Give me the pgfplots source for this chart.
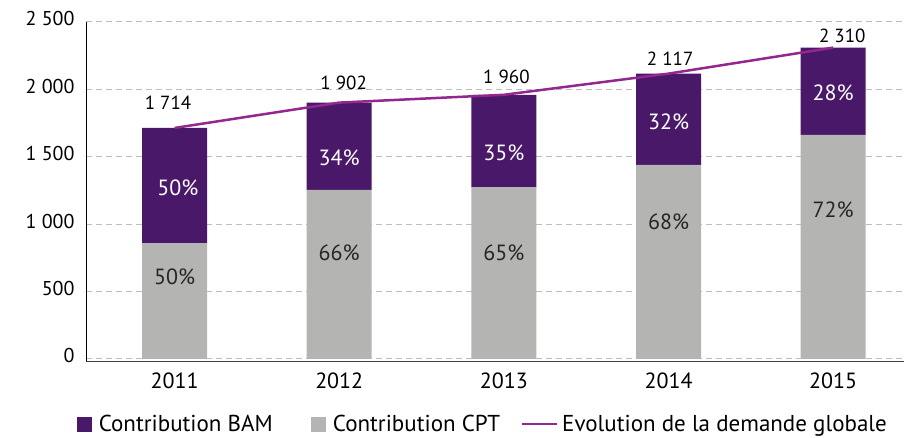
\documentclass[border=0pt]{standalone}
\usepackage{fontspec}
\setmainfont{PT Sans}
\usepackage{pgfplots}
\pgfplotsset{compat=1.18}
\definecolor{bam}{HTML}{4A1868}
\definecolor{cpt}{HTML}{B4B5B2}
\definecolor{evo}{HTML}{93278F}
\definecolor{grd}{HTML}{BDBDBD}
\pgfplotsset{common/.style={width=818pt, height=339pt, scale only axis,
  xmin=-0.538, xmax=4.43, ymin=-15, ymax=2500, at={(0pt,0pt)}, anchor=south west}}
\begin{document}
\begin{tikzpicture}
\useasboundingbox (-86pt,-76pt) rectangle (818pt,361pt);
\begin{axis}[common, ybar stacked, bar width=65pt,
  axis lines*=left,
  x axis line style={draw=black!75, line width=1pt},
  y axis line style={draw=black, line width=0.8pt},
  ytick={0,500,1000,1500,2000,2500}, yticklabels={0,500,1 000,1 500,2 000,2 500},
  xtick={0,1,2,3,4}, xticklabels={2011,2012,2013,2014,2015},
  major tick length=0pt, ymajorgrids,
  major grid style={grd, line width=1pt, dash pattern=on 6pt off 4pt},
  yticklabel style={font=\fontsize{20}{24}\selectfont, xshift=-8pt, yshift=3pt},
  xticklabel style={font=\fontsize{22}{26}\selectfont, yshift=-8pt}]
\addplot[fill=cpt, draw=none] coordinates {(0,857)(1,1255)(2,1274)(3,1440)(4,1663)};
\addplot[fill=bam, draw=none] coordinates {(0,857)(1,647)(2,686)(3,677)(4,647)};
\end{axis}
\begin{axis}[common, hide axis,
  legend style={at={(0.485,-0.187)}, anchor=center, draw=none, legend columns=3,
    font=\fontsize{23}{27}\selectfont,
    /tikz/column 2/.style={column sep=36pt},
    /tikz/column 4/.style={column sep=19pt}}]
\addlegendimage{legend image code/.code={\fill[bam] (0pt,-7pt) rectangle (14pt,7pt);
  \path[draw=none, fill=none] (0pt,0pt) -- (20pt,0pt);}}
\addlegendentry{Contribution BAM}
\addlegendimage{legend image code/.code={\fill[cpt] (0pt,-7pt) rectangle (14pt,7pt);
  \path[draw=none, fill=none] (0pt,0pt) -- (20pt,0pt);}}
\addlegendentry{Contribution CPT}
\addlegendimage{legend image code/.code={\draw[evo, line width=2pt] (0pt,0pt) -- (35pt,0pt);
  \path[draw=none, fill=none] (0pt,0pt) -- (38pt,0pt);}}
\addlegendentry{Evolution de la demande globale}
\addplot[evo, line width=2.5pt, mark=none, forget plot]
  coordinates {(0,1714)(1,1902)(2,1960)(3,2117)(4,2310)};
% total labels
\addplot[draw=none, mark=none, forget plot, nodes near coords, point meta=explicit symbolic,
  nodes near coords style={anchor=center, font=\fontsize{19}{22}\selectfont, text=black}]
  coordinates {(-0.04,1899)[1 714] (1.027,2047)[1 902] (2.015,2092)[1 960] (3.01,2225)[2 117] (4.055,2400)[2 310]};
% BAM share labels
\addplot[draw=none, mark=none, forget plot, nodes near coords, point meta=explicit symbolic,
  nodes near coords style={anchor=center, font=\fontsize{22}{26}\selectfont, text=white}]
  coordinates {(0.02,1268)[50\%] (1,1491)[34\%] (2,1528)[35\%] (3,1758)[32\%] (4,1973)[28\%]};
% CPT share labels
\addplot[draw=none, mark=none, forget plot, nodes near coords, point meta=explicit symbolic,
  nodes near coords style={anchor=center, font=\fontsize{22}{26}\selectfont, text=black!85}]
  coordinates {(0,608)[50\%] (1,786)[66\%] (2,786)[65\%] (3,1016)[68\%] (4,1105)[72\%]};
\end{axis}
\end{tikzpicture}
\end{document}
